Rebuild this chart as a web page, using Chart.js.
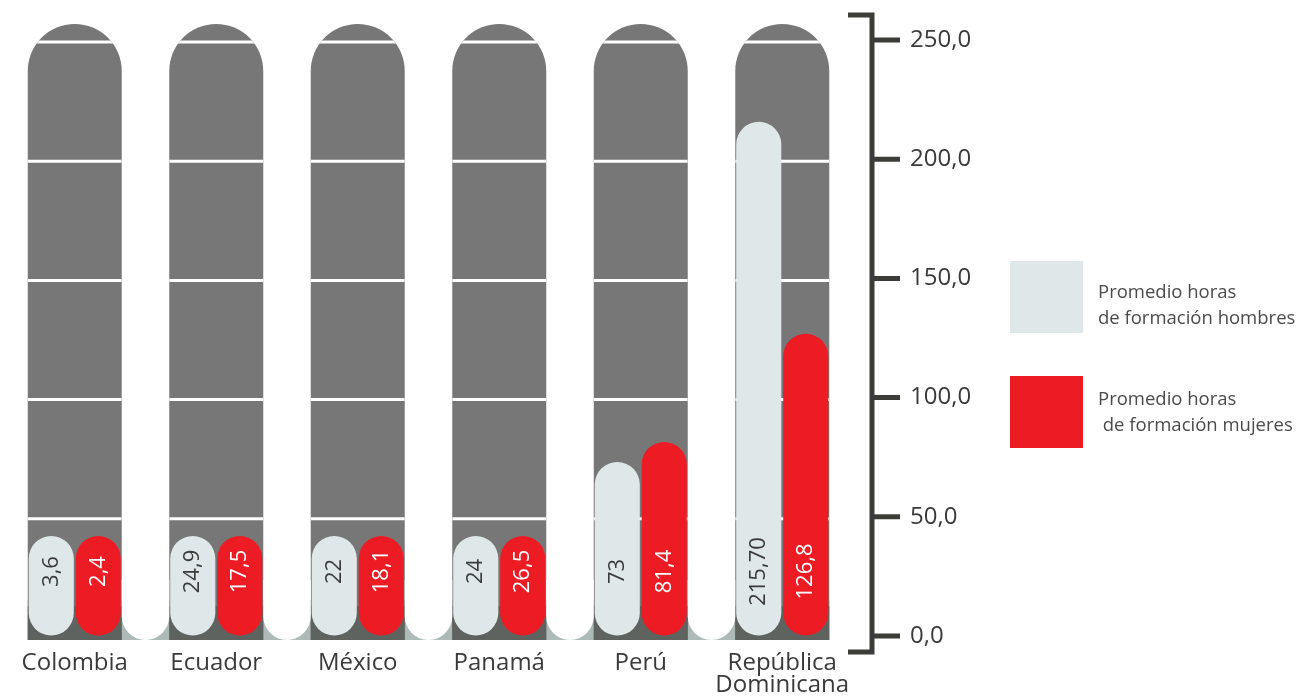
<!DOCTYPE html>
<html>
<head>
<meta charset="utf-8">
<script src="https://cdn.jsdelivr.net/npm/chart.js@4"></script>
<style>
  body { margin: 0; background: #fff; font-family: "Open Sans", sans-serif; }
  #wrap { position: relative; width: 1313px; height: 696px; }
  .key { position: absolute; left: 1010px; width: 73px; height: 72px; }
  .txt { position: absolute; left: 1098px; font-size: 18.5px; line-height: 26px; color: #4a4a4a; white-space: pre; }
</style>
</head>
<body>
<div id="wrap">
  <canvas id="hoursChart" width="1313" height="696"></canvas>
  <div class="key" style="top:261px;background:#dfe7e8"></div>
  <div class="txt" style="top:278px">Promedio horas
de formación hombres</div>
  <div class="key" style="top:376px;background:#ed1c24"></div>
  <div class="txt" style="top:385px">Promedio horas
 de formación mujeres</div>
</div>
<script>
const countries = ['Colombia', 'Ecuador', 'México', 'Panamá', 'Perú', ['República', 'Dominicana']];
const menHours = [3.6, 24.9, 22, 24, 73, 215.7];
const womenHours = [2.4, 17.5, 18.1, 26.5, 81.4, 126.8];
const menText = ['3,6', '24,9', '22', '24', '73', '215,70'];
const womenText = ['2,4', '17,5', '18,1', '26,5', '81,4', '126,8'];
const yTicks = [0, 50, 100, 150, 200, 250];

const colWidth = 94;

// gray pill columns, white grid lines, bottom strip
const backdrop = {
    id: 'backdrop',
    beforeDatasetsDraw(chart) {
        const { ctx, scales: { x, y } } = chart;
        const r = colWidth / 2;
        const top = y.getPixelForValue(250) - 16;
        const base = y.getPixelForValue(0) + 4;
        const centers = countries.map((c, i) => x.getPixelForValue(i));
        ctx.save();
        // strip
        ctx.fillStyle = '#adbab8';
        ctx.fillRect(centers[0] - r, base - 40, centers[centers.length - 1] - centers[0] + colWidth, 40);
        centers.forEach(cx => {
            ctx.beginPath();
            ctx.moveTo(cx - r, base);
            ctx.lineTo(cx - r, top + r);
            ctx.arc(cx, top + r, r, Math.PI, 0);
            ctx.lineTo(cx + r, base);
            ctx.closePath();
            ctx.fillStyle = '#777777';
            ctx.fill();
            ctx.fillStyle = '#5f6360';
            ctx.fillRect(cx - r, base - 34, colWidth, 34);
            // grid lines clipped to pill
            ctx.save();
            ctx.clip();
            ctx.strokeStyle = '#ffffff';
            ctx.lineWidth = 3;
            yTicks.slice(1).forEach(v => {
                const py = y.getPixelForValue(v) + 2;
                ctx.beginPath();
                ctx.moveTo(cx - r, py);
                ctx.lineTo(cx + r, py);
                ctx.stroke();
            });
            ctx.restore();
        });
        // white gaps with rounded bottoms
        ctx.fillStyle = '#ffffff';
        for (let i = 0; i < centers.length - 1; i++) {
            const l = centers[i] + r, rr = centers[i + 1] - r;
            const gr = (rr - l) / 2;
            ctx.beginPath();
            ctx.moveTo(l, base - 60);
            ctx.lineTo(l, base - gr);
            ctx.arc(l + gr, base - gr, gr, Math.PI, 0, true);
            ctx.lineTo(rr, base - 60);
            ctx.closePath();
            ctx.fill();
        }
        ctx.restore();
    },
    afterDatasetsDraw(chart) {
        const { ctx } = chart;
        const texts = [menText, womenText];
        const colors = ['#3a3a3a', '#ffffff'];
        ctx.save();
        ctx.font = '22px "Open Sans"';
        ctx.textAlign = 'center';
        ctx.textBaseline = 'middle';
        chart.data.datasets.forEach((ds, d) => {
            chart.getDatasetMeta(d).data.forEach((el, i) => {
                ctx.save();
                ctx.translate(el.x, el.base - 64);
                ctx.rotate(-Math.PI / 2);
                ctx.fillStyle = colors[d];
                ctx.fillText(texts[d][i], 0, 0);
                ctx.restore();
            });
        });
        ctx.restore();
    },
    afterDraw(chart) {
        const { ctx, chartArea, scales: { y } } = chart;
        const ax = chartArea.right + 19;
        const topY = y.getPixelForValue(250) - 25;
        const botY = y.getPixelForValue(0) + 16;
        ctx.save();
        ctx.strokeStyle = '#3c3c38';
        ctx.lineWidth = 5;
        ctx.beginPath();
        ctx.moveTo(ax, topY - 2.5);
        ctx.lineTo(ax, botY + 2.5);
        ctx.moveTo(ax - 24, topY);
        ctx.lineTo(ax, topY);
        ctx.moveTo(ax - 24, botY);
        ctx.lineTo(ax, botY);
        yTicks.forEach(v => {
            const py = y.getPixelForValue(v);
            ctx.moveTo(ax, py);
            ctx.lineTo(ax + 28, py);
        });
        ctx.stroke();
        ctx.restore();
    }
};

new Chart(document.getElementById('hoursChart').getContext('2d'), {
    type: 'bar',
    data: {
        labels: countries,
        datasets: [{
            label: 'Promedio horas de formación hombres',
            data: menHours,
            backgroundColor: '#dfe7e8',
            borderRadius: 23,
            borderSkipped: false,
            minBarLength: 100,
            barPercentage: 0.96,
            categoryPercentage: 0.664
        }, {
            label: 'Promedio horas de formación mujeres',
            data: womenHours,
            backgroundColor: '#ed1c24',
            borderRadius: 23,
            borderSkipped: false,
            minBarLength: 100,
            barPercentage: 0.96,
            categoryPercentage: 0.664
        }]
    },
    options: {
        responsive: false,
        animation: false,
        layout: { padding: { left: 4, right: 323, top: 40, bottom: 0 } },
        plugins: {
            legend: { display: false },
            tooltip: { enabled: false }
        },
        scales: {
            x: {
                grid: { display: false },
                border: { display: false },
                ticks: {
                    color: '#3a3a3a',
                    padding: 8,
                    font: { family: 'Open Sans', size: 24, lineHeight: 0.92 }
                },
                afterFit(scale) { scale.height = 60; }
            },
            y: {
                position: 'right',
                min: 0,
                max: 250,
                grid: { display: true, drawOnChartArea: false, drawTicks: true, tickLength: 47, tickColor: 'rgba(0,0,0,0)' },
                border: { display: false },
                afterBuildTicks(scale) { scale.ticks = yTicks.map(v => ({ value: v })); },
                afterFit(scale) { scale.width = 137; },
                ticks: {
                    color: '#3a3a3a',
                    padding: 10,
                    font: { family: 'Open Sans', size: 24 },
                    callback: v => v.toFixed(1).replace('.', ',')
                }
            }
        }
    },
    plugins: [backdrop]
});
</script>
</body>
</html>
